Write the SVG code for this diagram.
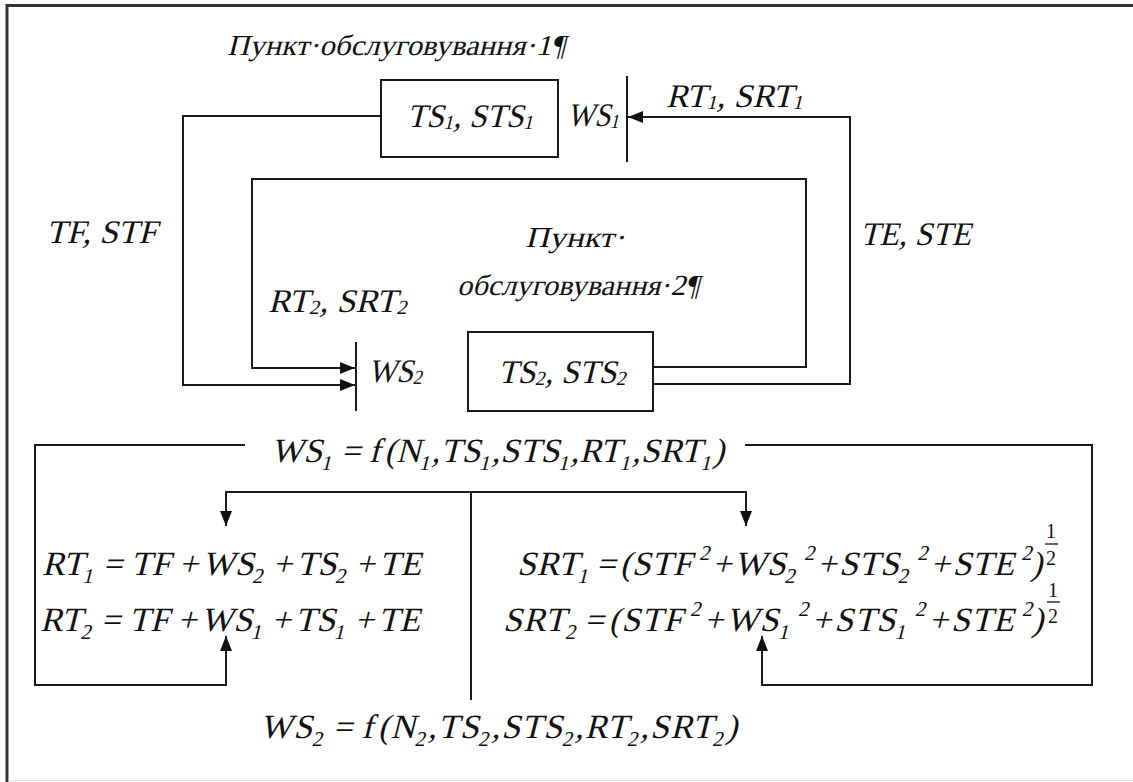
<svg xmlns="http://www.w3.org/2000/svg" width="1133" height="782" viewBox="0 0 1133 782">
  <defs>
    <style>
      .ln { fill: none; stroke: #1a1a1a; stroke-width: 2; }
      .box { fill: #fff; stroke: #1a1a1a; stroke-width: 2; }
      .bar { stroke: #1a1a1a; stroke-width: 2; }
      .t { fill: #111; }
      .ttl { font-size: 29px; }
      .lb { font-size: 33px; }
      .ls { font-size: 20px; }
      .eq { font-size: 34px; }
      .sb { font-size: 21px; }
      .fr { font-size: 20px; }
    </style>
    <marker id="ah" markerWidth="15" markerHeight="12" refX="15" refY="6" orient="auto" markerUnits="userSpaceOnUse">
      <path d="M0,0 L15,6 L0,12 z" fill="#111"/>
    </marker>
  </defs>

  <rect width="1133" height="782" fill="#fff"/>

  <!-- page frame -->
  <g id="frame">
    <line x1="7" y1="5.5" x2="1133" y2="5.5" stroke="#333" stroke-width="3"/>
    <line x1="7" y1="4" x2="7" y2="782" stroke="#333" stroke-width="3"/>
    <line x1="8" y1="780.5" x2="1133" y2="780.5" stroke="#ddd" stroke-width="1"/>
  </g>

  <!-- connectors -->
  <g id="connectors">
    <path class="ln" d="M653,384 H850 V117 H628" marker-end="url(#ah)"/>
    <path class="ln" d="M381,116 H183 V385 H355" marker-end="url(#ah)"/>
    <path class="ln" d="M653,367 H806 V179 H252 V368 H355" marker-end="url(#ah)"/>
    <path class="ln" d="M245,445 H35 V685 H226 V636" marker-end="url(#ah)"/>
    <path class="ln" d="M745,445 H1092 V685 H762 V636" marker-end="url(#ah)"/>
    <path class="ln" d="M471,700 V492"/>
    <path class="ln" d="M471,492 H226 V526" marker-end="url(#ah)"/>
    <path class="ln" d="M471,492 H746 V526" marker-end="url(#ah)"/>
  </g>

  <!-- all text: regular serif face, slanted by a skew about its own baseline -->
  <g font-family="Liberation Serif" font-style="normal">
  <!-- service point 1 -->
  <g id="point1-title">
    <text class="t ttl" x="227" y="55" textLength="338" lengthAdjust="spacingAndGlyphs" transform="matrix(1 0 -0.25 1 13.75 0)">Пункт·обслуговування·1¶</text>
  </g>
  <g id="ts1">
    <rect class="box" x="381" y="80" width="177" height="77"/>
    <text class="t lb" x="470" y="127" text-anchor="middle" textLength="126" lengthAdjust="spacingAndGlyphs" transform="matrix(1 0 -0.25 1 31.75 0)"><tspan>TS</tspan><tspan class="ls" dy="2">1</tspan><tspan dy="-2">, STS</tspan><tspan class="ls" dy="2">1</tspan></text>
  </g>
  <g id="ws1">
    <line class="bar" x1="627" y1="76" x2="627" y2="162"/>
    <text class="t lb" x="567" y="126" font-size="31" textLength="52" lengthAdjust="spacingAndGlyphs" transform="matrix(1 0 -0.25 1 31.5 0)"><tspan>WS</tspan><tspan class="ls" dy="2">1</tspan></text>
  </g>
  <g id="rt1-label">
    <text class="t lb" x="666" y="107" textLength="137" lengthAdjust="spacingAndGlyphs" transform="matrix(1 0 -0.25 1 26.75 0)"><tspan>RT</tspan><tspan class="ls" dy="2">1</tspan><tspan dy="-2">, SRT</tspan><tspan class="ls" dy="2">1</tspan></text>
  </g>

  <!-- transit labels -->
  <g id="tf-label">
    <text class="t lb" x="46" y="243" textLength="111" lengthAdjust="spacingAndGlyphs" transform="matrix(1 0 -0.25 1 60.75 0)">TF, STF</text>
  </g>
  <g id="te-label">
    <text class="t lb" x="860" y="245" textLength="111" lengthAdjust="spacingAndGlyphs" transform="matrix(1 0 -0.25 1 61.25 0)">TE, STE</text>
  </g>

  <!-- service point 2 -->
  <g id="point2-title">
    <text class="t ttl" x="525" y="247" textLength="100" lengthAdjust="spacingAndGlyphs" transform="matrix(1 0 -0.25 1 61.75 0)">Пункт·</text>
    <text class="t ttl" x="457" y="295" textLength="242" lengthAdjust="spacingAndGlyphs" transform="matrix(1 0 -0.25 1 73.75 0)">обслуговування·2¶</text>
  </g>
  <g id="rt2-label">
    <text class="t lb" x="268" y="312" textLength="139" lengthAdjust="spacingAndGlyphs" transform="matrix(1 0 -0.25 1 78 0)"><tspan>RT</tspan><tspan class="ls" dy="2">2</tspan><tspan dy="-2">, SRT</tspan><tspan class="ls" dy="2">2</tspan></text>
  </g>
  <g id="ws2">
    <line class="bar" x1="356" y1="342" x2="356" y2="411"/>
    <text class="t lb" x="368" y="382" font-size="31" textLength="54" lengthAdjust="spacingAndGlyphs" transform="matrix(1 0 -0.25 1 95.5 0)"><tspan>WS</tspan><tspan class="ls" dy="2">2</tspan></text>
  </g>
  <g id="ts2">
    <rect class="box" x="468" y="332" width="185" height="79"/>
    <text class="t lb" x="562" y="383" text-anchor="middle" textLength="128" lengthAdjust="spacingAndGlyphs" transform="matrix(1 0 -0.25 1 95.75 0)"><tspan>TS</tspan><tspan class="ls" dy="2">2</tspan><tspan dy="-2">, STS</tspan><tspan class="ls" dy="2">2</tspan></text>
  </g>

  <!-- formulas -->
  <g id="eq-ws1">
    <text class="t eq" x="271" y="462" textLength="453" transform="matrix(1 0 -0.25 1 115.5 0)"><tspan>WS</tspan><tspan class="sb" dy="8">1</tspan><tspan dy="-8" dx="8">=</tspan><tspan dx="8">f</tspan><tspan dx="4">(</tspan><tspan>N</tspan><tspan class="sb" dy="8">1</tspan><tspan dy="-8">,</tspan><tspan>TS</tspan><tspan class="sb" dy="8">1</tspan><tspan dy="-8">,</tspan><tspan>STS</tspan><tspan class="sb" dy="8">1</tspan><tspan dy="-8">,</tspan><tspan>RT</tspan><tspan class="sb" dy="8">1</tspan><tspan dy="-8">,</tspan><tspan>SRT</tspan><tspan class="sb" dy="8">1</tspan><tspan dy="-8">)</tspan></text>
  </g>
  <g id="eq-rt1">
    <text class="t eq" x="42" y="575" textLength="379" transform="matrix(1 0 -0.25 1 143.75 0)"><tspan>RT</tspan><tspan class="sb" dy="8">1</tspan><tspan dy="-8" dx="8">=</tspan><tspan dx="8">TF</tspan><tspan dx="8">+</tspan><tspan dx="4">WS</tspan><tspan class="sb" dy="8">2</tspan><tspan dy="-8" dx="8">+</tspan><tspan dx="4">TS</tspan><tspan class="sb" dy="8">2</tspan><tspan dy="-8" dx="8">+</tspan><tspan dx="4">TE</tspan></text>
  </g>
  <g id="eq-rt2">
    <text class="t eq" x="40" y="631" textLength="380" transform="matrix(1 0 -0.25 1 157.75 0)"><tspan>RT</tspan><tspan class="sb" dy="8">2</tspan><tspan dy="-8" dx="8">=</tspan><tspan dx="8">TF</tspan><tspan dx="8">+</tspan><tspan dx="4">WS</tspan><tspan class="sb" dy="8">1</tspan><tspan dy="-8" dx="8">+</tspan><tspan dx="4">TS</tspan><tspan class="sb" dy="8">1</tspan><tspan dy="-8" dx="8">+</tspan><tspan dx="4">TE</tspan></text>
  </g>
  <g id="eq-srt1">
    <text class="t eq" x="517" y="575" textLength="525" transform="matrix(1 0 -0.25 1 143.75 0)"><tspan>SRT</tspan><tspan class="sb" dy="8">1</tspan><tspan dy="-8" dx="6">=</tspan><tspan dx="4">(</tspan><tspan>STF</tspan><tspan class="sb" dy="-15" dx="3">2</tspan><tspan dy="15" dx="6">+</tspan><tspan dx="2">WS</tspan><tspan class="sb" dy="8">2</tspan><tspan class="sb" dy="-23" dx="3">2</tspan><tspan dy="15" dx="6">+</tspan><tspan dx="2">STS</tspan><tspan class="sb" dy="8">2</tspan><tspan class="sb" dy="-23" dx="3">2</tspan><tspan dy="15" dx="6">+</tspan><tspan dx="2">STE</tspan><tspan class="sb" dy="-15" dx="3">2</tspan><tspan dy="15" dx="2">)</tspan></text>
    <text class="t fr" x="1051" y="538" text-anchor="middle">1</text>
    <line x1="1045" y1="544" x2="1058" y2="544" stroke="#111" stroke-width="1.3"/>
    <text class="t fr" x="1051" y="565" text-anchor="middle">2</text>
  </g>
  <g id="eq-srt2">
    <text class="t eq" x="503" y="631" textLength="540" transform="matrix(1 0 -0.25 1 157.75 0)"><tspan>SRT</tspan><tspan class="sb" dy="8">2</tspan><tspan dy="-8" dx="6">=</tspan><tspan dx="4">(</tspan><tspan>STF</tspan><tspan class="sb" dy="-15" dx="3">2</tspan><tspan dy="15" dx="6">+</tspan><tspan dx="2">WS</tspan><tspan class="sb" dy="8">1</tspan><tspan class="sb" dy="-23" dx="3">2</tspan><tspan dy="15" dx="6">+</tspan><tspan dx="2">STS</tspan><tspan class="sb" dy="8">1</tspan><tspan class="sb" dy="-23" dx="3">2</tspan><tspan dy="15" dx="6">+</tspan><tspan dx="2">STE</tspan><tspan class="sb" dy="-15" dx="3">2</tspan><tspan dy="15" dx="2">)</tspan></text>
    <text class="t fr" x="1053" y="597" text-anchor="middle">1</text>
    <line x1="1047" y1="602" x2="1060" y2="602" stroke="#111" stroke-width="1.3"/>
    <text class="t fr" x="1053" y="623" text-anchor="middle">2</text>
  </g>
  <g id="eq-ws2">
    <text class="t eq" x="260" y="738" textLength="477" transform="matrix(1 0 -0.25 1 184.5 0)"><tspan>WS</tspan><tspan class="sb" dy="8">2</tspan><tspan dy="-8" dx="8">=</tspan><tspan dx="8">f</tspan><tspan dx="4">(</tspan><tspan>N</tspan><tspan class="sb" dy="8">2</tspan><tspan dy="-8">,</tspan><tspan>TS</tspan><tspan class="sb" dy="8">2</tspan><tspan dy="-8">,</tspan><tspan>STS</tspan><tspan class="sb" dy="8">2</tspan><tspan dy="-8">,</tspan><tspan>RT</tspan><tspan class="sb" dy="8">2</tspan><tspan dy="-8">,</tspan><tspan>SRT</tspan><tspan class="sb" dy="8">2</tspan><tspan dy="-8">)</tspan></text>
  </g>
  </g>
</svg>
